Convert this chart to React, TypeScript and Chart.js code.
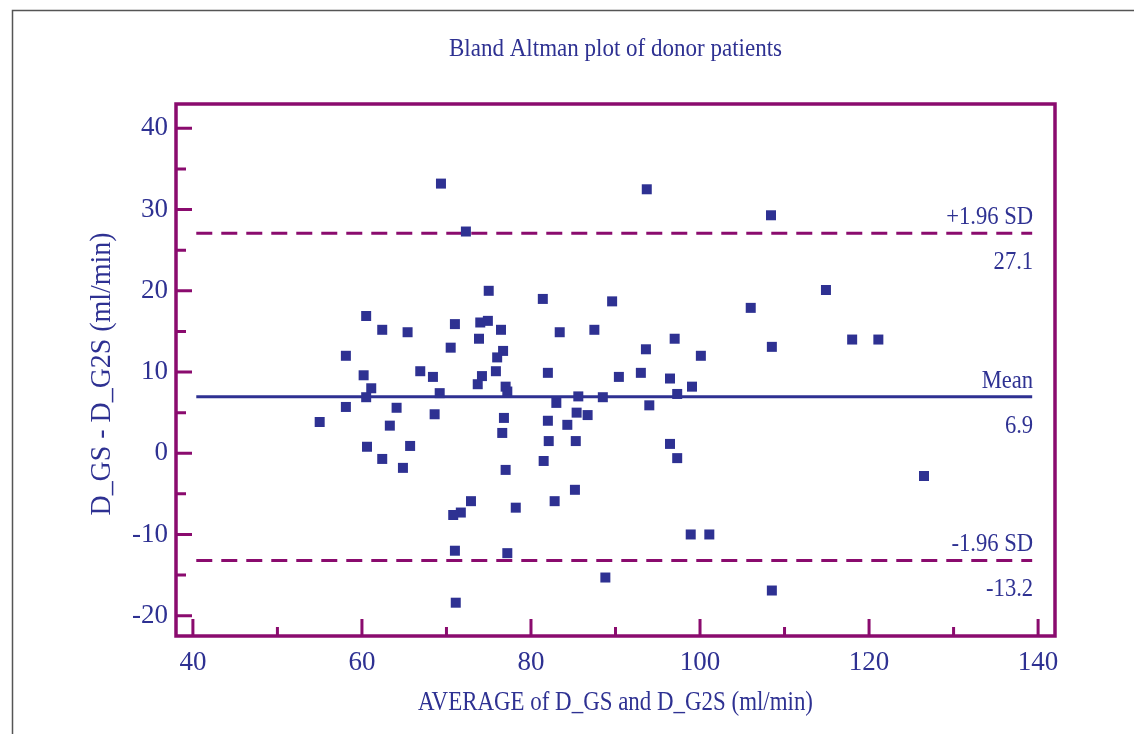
import React, { useEffect, useRef } from 'react';
import { Chart, registerables } from 'chart.js';

Chart.register(...registerables);

// ---- data ----
const avgValues = [
  69.35, 72.3, 60.5, 62.4, 65.4, 71.0, 74.0, 74.9, 75.0, 73.85,
  70.5, 58.1, 60.2, 66.9, 68.4, 61.1, 60.5, 69.2, 74.2, 73.7,
  58.1, 55.0, 64.1, 63.3, 68.6, 60.6, 65.7, 62.4, 64.85, 72.9,
  71.7, 70.8, 71.0, 71.1, 76.45, 81.4, 89.6, 83.4, 87.5, 76.7,
  76.0, 75.85, 77.0, 77.2, 82.0, 90.4, 93.0, 83.0, 85.6, 88.5,
  85.4, 86.7, 76.8, 76.6, 82.0, 84.3, 82.1, 85.3, 81.5, 77.0,
  85.2, 82.8, 78.2, 77.2, 88.8, 93.7, 108.4, 114.9, 106.0, 97.0,
  93.6, 108.5, 100.1, 96.45, 99.05, 97.3, 94.0, 96.45, 97.3, 98.9,
  101.1, 108.5, 118.0, 121.1, 126.5,
];
const diffValues = [
  33.2, 27.3, 16.9, 15.2, 14.9, 15.9, 16.1, 16.3, 20.0, 14.1,
  13.0, 12.0, 9.6, 10.1, 9.4, 8.0, 6.9, 7.4, 9.5, 8.5,
  5.7, 3.85, 5.6, 3.4, 4.8, 0.8, 0.9, -0.7, -1.8, -5.9,
  -7.3, -7.6, -12.0, -18.4, 15.2, 19.0, 18.7, 14.9, 15.2, 12.6,
  11.8, 10.1, 8.2, 7.6, 9.9, 9.4, 9.9, 6.2, 7.0, 6.9,
  5.0, 4.7, 4.35, 2.5, 4.0, 3.5, 1.5, 1.5, -0.95, -2.05,
  -4.5, -5.9, -6.7, -12.3, -15.3, 32.5, 29.3, 20.1, 17.9, 14.1,
  12.8, 13.1, 12.0, 9.2, 8.2, 7.3, 5.9, 1.15, -0.6, -10.0,
  -10.0, -16.9, 14.0, 14.0, -2.8,
];
const meanDiff = 6.95;
const upperLimit = 27.1;
const lowerLimit = -13.2;
const limitNames = ['+1.96 SD', 'Mean', '-1.96 SD'];
const limitValueLabels = ['27.1', '6.9', '-13.2'];
const lineSpan = [40.4, 139.3];
const xTicks = [40, 60, 80, 100, 120, 140];
const xMinorTicks = [50, 70, 90, 110, 130];
const yTicks = [-20, -10, 0, 10, 20, 30, 40];
const yMinorTicks = [-15, -5, 5, 15, 25, 35];
const titleText = 'Bland Altman plot of donor patients';
const xTitleText = 'AVERAGE of D_GS and D_G2S (ml/min)';
const yTitleText = 'D_GS - D_G2S (ml/min)';

// ---- styles ----
const FONT = '"Liberation Serif", "Times New Roman", serif';
const BLUE = '#2E3192';
const PURPLE = '#8A0B6E';

function drawScaledText(
  ctx: CanvasRenderingContext2D,
  text: string,
  x: number,
  y: number,
  size: number,
  align: CanvasTextAlign,
  opts: { width?: number; sx?: number; rotate?: number }
) {
  ctx.save();
  ctx.font = `${size}px ${FONT}`;
  ctx.fillStyle = BLUE;
  ctx.textAlign = align;
  ctx.textBaseline = 'alphabetic';
  const w = ctx.measureText(text).width;
  const sx = opts.width ? opts.width / w : opts.sx ?? 1;
  ctx.translate(x, y);
  if (opts.rotate) ctx.rotate(opts.rotate);
  ctx.scale(sx, 1);
  ctx.fillText(text, 0, 0);
  ctx.restore();
}

const decorPlugin = {
  id: 'decor',
  afterDatasetsDraw(chart: any) {
    const ctx: CanvasRenderingContext2D = chart.ctx;
    const { left, right, top, bottom } = chart.chartArea;
    const xs = chart.scales.x;
    const ys = chart.scales.y;

    // outer frame
    ctx.save();
    ctx.strokeStyle = '#555';
    ctx.lineWidth = 1.5;
    ctx.beginPath();
    ctx.moveTo(12.5, 734);
    ctx.lineTo(12.5, 10.5);
    ctx.lineTo(1134, 10.5);
    ctx.stroke();
    ctx.restore();

    // limit labels
    const limits = [upperLimit, meanDiff, lowerLimit];
    const xr = xs.getPixelForValue(lineSpan[1]) + 1;
    limits.forEach((v, i) => {
      const py = ys.getPixelForValue(v);
      drawScaledText(ctx, limitNames[i], xr, py - 9, 26, 'right', { sx: 0.87 });
      drawScaledText(ctx, limitValueLabels[i], xr, py + 36, 26, 'right', { sx: 0.87 });
    });

    // ticks (inward)
    ctx.save();
    ctx.strokeStyle = PURPLE;
    ctx.lineWidth = 3;
    ctx.beginPath();
    yTicks.forEach((v) => {
      const py = ys.getPixelForValue(v);
      ctx.moveTo(left, py);
      ctx.lineTo(left + 16, py);
    });
    yMinorTicks.forEach((v) => {
      const py = ys.getPixelForValue(v);
      ctx.moveTo(left, py);
      ctx.lineTo(left + 10, py);
    });
    xTicks.forEach((v) => {
      const px = xs.getPixelForValue(v);
      ctx.moveTo(px, bottom);
      ctx.lineTo(px, bottom - 17);
    });
    xMinorTicks.forEach((v) => {
      const px = xs.getPixelForValue(v);
      ctx.moveTo(px, bottom);
      ctx.lineTo(px, bottom - 9);
    });
    ctx.stroke();
    // plot frame
    ctx.lineWidth = 3.5;
    ctx.strokeRect(left, top, right - left, bottom - top);
    ctx.restore();

    // titles
    const cx = (left + right) / 2;
    drawScaledText(ctx, titleText, cx, 56, 25, 'center', { width: 333 });
    drawScaledText(ctx, xTitleText, cx, 710, 27, 'center', { width: 395 });
    drawScaledText(ctx, yTitleText, 110, (top + bottom) / 2 + 4, 29, 'center', {
      width: 283,
      rotate: -Math.PI / 2,
    });
  },
};

export default function App() {
  const ref = useRef<HTMLCanvasElement>(null);

  useEffect(() => {
    document.body.style.margin = '0';
    const points = avgValues.map((x, i) => ({ x, y: diffValues[i] }));
    const hline = (v: number) => [
      { x: lineSpan[0], y: v },
      { x: lineSpan[1], y: v },
    ];
    const tickFont = { family: FONT, size: 27 };
    const chart = new Chart(ref.current as HTMLCanvasElement, {
      type: 'scatter',
      data: {
        datasets: [
          {
            label: 'Differences',
            data: points,
            pointStyle: 'rect',
            pointRadius: 7.07,
            pointBorderWidth: 0,
            backgroundColor: BLUE,
            borderColor: BLUE,
          } as any,
          {
            label: 'Mean',
            type: 'line',
            data: hline(meanDiff),
            borderColor: BLUE,
            borderWidth: 3,
            pointRadius: 0,
            showLine: true,
          },
          {
            label: '+1.96 SD',
            type: 'line',
            data: hline(upperLimit),
            borderColor: PURPLE,
            borderWidth: 3,
            borderDash: [16, 9],
            pointRadius: 0,
            showLine: true,
          },
          {
            label: '-1.96 SD',
            type: 'line',
            data: hline(lowerLimit),
            borderColor: PURPLE,
            borderWidth: 3,
            borderDash: [16, 9],
            pointRadius: 0,
            showLine: true,
          },
        ],
      },
      options: {
        responsive: false,
        animation: false,
        devicePixelRatio: 1,
        layout: { padding: { left: 0, top: 104, right: 79, bottom: 0 } },
        plugins: {
          legend: { display: false },
          tooltip: { enabled: false },
          title: { display: false },
        },
        scales: {
          x: {
            type: 'linear',
            min: 38,
            max: 142,
            afterBuildTicks: (s: any) => {
              s.ticks = xTicks.map((v) => ({ value: v }));
            },
            afterFit: (s: any) => {
              s.height = 98;
            },
            grid: { display: false, drawTicks: false },
            border: { display: false },
            ticks: {
              color: BLUE,
              font: tickFont,
              padding: 11,
              maxRotation: 0,
              autoSkip: false,
            },
          },
          y: {
            type: 'linear',
            min: -22.5,
            max: 43,
            afterBuildTicks: (s: any) => {
              s.ticks = yTicks.map((v) => ({ value: v }));
            },
            afterFit: (s: any) => {
              s.width = 176;
            },
            grid: { display: false, drawTicks: false },
            border: { display: false },
            ticks: {
              color: BLUE,
              font: tickFont,
              padding: 8,
              autoSkip: false,
            },
          },
        },
      },
      plugins: [decorPlugin],
    });
    return () => chart.destroy();
  }, []);

  return (
    <div style={{ width: 1134, height: 734, background: '#fff' }}>
      <canvas ref={ref} width={1134} height={734} style={{ display: 'block' }} />
    </div>
  );
}
